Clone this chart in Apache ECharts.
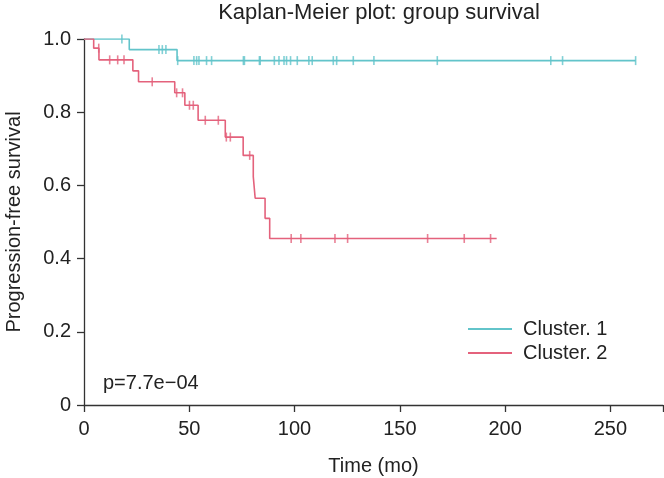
<!DOCTYPE html>
<html>
<head>
<meta charset="utf-8">
<script src="https://cdn.jsdelivr.net/npm/echarts@6/dist/echarts.min.js"></script>
<style>html,body{margin:0;padding:0;background:#fff;}#chart{width:664px;height:478px;}</style>
</head>
<body>
<div id="chart"></div>
<script>
// Cluster 1: step curve (time of drop, survival after drop)
const c1Times = [0, 21.5, 44.2, 262];
const c1Surv  = [1, 0.971, 0.941, 0.941];
const c1Censor = [18, 35.6, 37.2, 38.9, 44.5, 52.2, 53.5, 54.6, 58.2, 60.6, 75.7, 76.2, 83.3, 83.7, 90.4, 92.6, 95, 96.2, 98.1, 101.3, 106.8, 108.4, 118.4, 120, 127.9, 137.7, 167.8, 221.7, 227.3, 262];

// Cluster 2
const c2Times = [0, 4.6, 7.1, 23.2, 25.9, 43.1, 47.9, 54.2, 67.1, 75.6, 80.4, 81.3, 86.0, 88.2, 196];
const c2Surv  = [1, 0.975, 0.943, 0.913, 0.883, 0.853, 0.819, 0.778, 0.732, 0.682, 0.624, 0.565, 0.510, 0.455, 0.455];
const c2Censor = [7.0, 12.2, 16.0, 19.0, 32.4, 44.0, 46.8, 50.1, 51.9, 57.6, 63.8, 67.6, 69.5, 78.7, 98.4, 103, 119.2, 125.2, 163.2, 180.6, 193.1];

const xTicks = [0, 50, 100, 150, 200, 250];
const yTicks = [0, 0.2, 0.4, 0.6, 0.8, 1.0];
const seriesNames = ['Cluster. 1', 'Cluster. 2'];
const titleText = 'Kaplan-Meier plot: group survival';
const pText = 'p=7.7e\u221204';

const C1 = '#62c4ca';
const C2 = '#e4627c';
const FONT = 'Liberation Sans, Arial, sans-serif';
const TXT = '#222';

function survAt(times, surv, t) {
  let s = surv[0];
  for (let i = 0; i < times.length; i++) { if (times[i] <= t) s = surv[i]; }
  return s;
}
const c1Line = c1Times.map((t, i) => [t, c1Surv[i]]);
const c2Line = c2Times.map((t, i) => [t, c2Surv[i]]);
const c1Marks = c1Censor.map(t => [t, survAt(c1Times, c1Surv, t)]);
const c2Marks = c2Censor.map(t => [t, survAt(c2Times, c2Surv, t)]);

const chart = echarts.init(document.getElementById('chart'), null, {renderer: 'canvas'});
const mark = 'path://M0,0 L1,0 L1,10 L0,10 Z';
chart.setOption({
  animation: false,
  backgroundColor: '#fff',
  textStyle: {fontFamily: FONT},
  title: {
    text: titleText, left: 374, textAlign: 'center', top: -3,
    textStyle: {fontFamily: FONT, fontSize: 22, fontWeight: 'normal', color: TXT}
  },
  grid: {left: 84, right: 1, top: 39, bottom: 73, containLabel: false, outerBoundsMode: 'none'},
  legend: {
    data: seriesNames, orient: 'vertical', left: 463, top: 314,
    icon: 'rect', itemWidth: 44, itemHeight: 2, itemGap: 4,
    textStyle: {fontFamily: FONT, fontSize: 20, color: TXT, padding: [0, 0, 0, 6]}
  },
  xAxis: {
    type: 'value', min: 0, max: 275,
    name: 'Time (mo)', nameLocation: 'middle', nameGap: 51,
    nameTextStyle: {fontFamily: FONT, fontSize: 20, color: TXT},
    axisLine: {show: true, onZero: false, lineStyle: {color: '#333', width: 1.3}},
    axisTick: {show: true, length: 7, lineStyle: {color: '#333', width: 1.3}, customValues: xTicks.concat([275])},
    axisLabel: {fontFamily: FONT, fontSize: 20, color: TXT, margin: 14, customValues: xTicks},
    splitLine: {show: false}
  },
  yAxis: {
    type: 'value', min: 0, max: 1,
    name: 'Progression-free survival', nameLocation: 'middle', nameGap: 60,
    nameTextStyle: {fontFamily: FONT, fontSize: 20, color: TXT},
    axisLine: {show: true, lineStyle: {color: '#333', width: 1.3}},
    axisTick: {show: true, length: 7, lineStyle: {color: '#333', width: 1.3}, customValues: yTicks},
    axisLabel: {fontFamily: FONT, fontSize: 20, color: TXT, margin: 13, customValues: yTicks,
      formatter: v => v === 0 ? '0' : v.toFixed(1)},
    splitLine: {show: false}
  },
  graphic: [{
    type: 'text', left: 103, top: 373,
    style: {text: pText, font: '20px Liberation Sans, Arial, sans-serif', fill: TXT}
  }],
  series: [
    {name: seriesNames[0], type: 'line', step: 'end', data: c1Line, showSymbol: false,
      lineStyle: {color: C1, width: 1.6}, itemStyle: {color: C1}, z: 3},
    {name: seriesNames[1], type: 'line', step: 'end', data: c2Line, showSymbol: false,
      lineStyle: {color: C2, width: 1.6}, itemStyle: {color: C2}, z: 4},
    {name: 'c1cens', type: 'scatter', data: c1Marks, symbol: mark, symbolSize: [1.6, 9],
      itemStyle: {color: C1}, z: 3},
    {name: 'c2cens', type: 'scatter', data: c2Marks, symbol: mark, symbolSize: [1.6, 9],
      itemStyle: {color: C2}, z: 4}
  ]
});
</script>
</body>
</html>
